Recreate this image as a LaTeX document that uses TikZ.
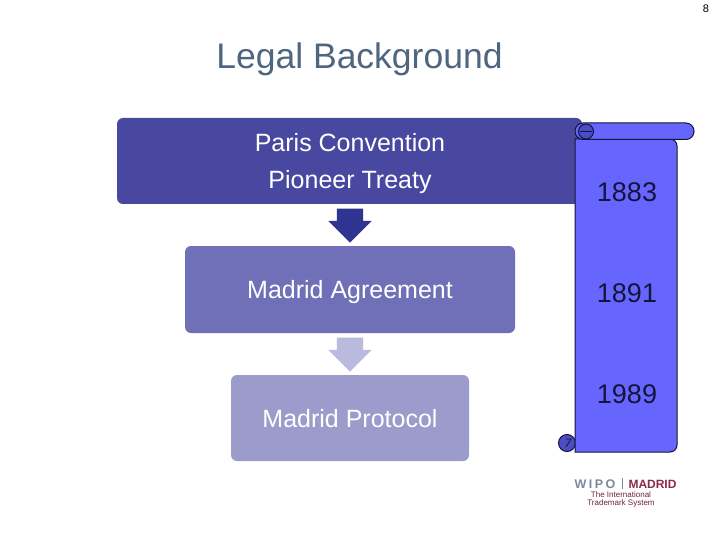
\documentclass[tikz,border=0pt]{standalone}
\usepackage{fontspec}
\setmainfont{Liberation Sans}
\usetikzlibrary{positioning,shapes.arrows}
\definecolor{titlecol}{HTML}{4F6580}
\definecolor{inkcol}{HTML}{14143C}
\definecolor{lineA}{HTML}{4848A0}
\definecolor{lineB}{HTML}{7070B8}
\definecolor{lineC}{HTML}{9C9CCC}
\definecolor{arrowA}{HTML}{2E3490}
\definecolor{arrowB}{HTML}{BABADE}
\definecolor{scrollcol}{HTML}{6666FF}
\definecolor{curlcol}{HTML}{4C4CC4}
\definecolor{wipocol}{HTML}{7A8A9C}
\definecolor{madcol}{HTML}{8E2A48}

\begin{document}
\begin{tikzpicture}[
  x=1pt,y=-1pt,
  stepbox/.style={rounded corners=6pt,inner sep=0pt},
  boxtext/.style={inner sep=0pt,anchor=base,text=white,font=\fontsize{25}{30}\selectfont},
  yearlabel/.style={inner sep=0pt,anchor=base,text=inkcol,font=\fontsize{27}{32}\selectfont},
  downarrow/.style={single arrow,rotate=270,inner xsep=0pt,inner ysep=13pt,
    minimum height=34pt,single arrow head extend=8.5pt,single arrow tip angle=90},
  scrollline/.style={draw=inkcol,line width=1pt}
]
  \useasboundingbox (0,0) rectangle (720,540);
  \fill[white] (0,0) rectangle (720,540);

  \node[inner sep=0pt,font=\fontsize{11}{13}\selectfont] (pagenum) at (706,9) {8};
  \node[inner sep=0pt,anchor=base,text=titlecol,font=\fontsize{35.5}{40}\selectfont] (title) at (359.5,69) {Legal Background};

  % boxes
  \node[stepbox,fill=lineA,minimum width=465pt,minimum height=86pt] (paris) at (349.5,161) {};
  \node[stepbox,fill=lineB,minimum width=330pt,minimum height=87pt] (agreement) at (350,289.5) {};
  \node[stepbox,fill=lineC,minimum width=238pt,minimum height=86pt] (protocol) at (350,418) {};
  \node[boxtext] (paristop) at (350,151.5) {Paris Convention};
  \node[boxtext] (parisbot) at (350,188.5) {Pioneer Treaty};
  \node[boxtext] (agreetext) at (350,298) {Madrid Agreement};
  \node[boxtext] (prototext) at (350,427) {Madrid Protocol};

  % arrows
  \node[downarrow,fill=arrowA] (arrowone) at (350,219) {};
  \node[downarrow,fill=arrowB] (arrowtwo) at (350,348) {};

  % scroll
  \draw[scrollline,fill=curlcol] (567,443) circle (8.5);
  \draw[scrollline,fill=scrollcol]
    (575,452) [rounded corners=7pt] -- (677,452) -- (677,139) [sharp corners] -- (575,139) -- cycle;
  \draw[scrollline,fill=scrollcol,rounded corners=8pt]
    (575,123) rectangle (694,139.5);
  \draw[scrollline,fill=curlcol] (586,131.5) circle (7.5);
  \draw[draw=inkcol,line width=.8pt] (580,131.5) -- (592,131.5);
  \draw[draw=inkcol,line width=.8pt] (566,439) -- (571,439) -- (566,447);

  \node[yearlabel] (yeartop) at (627,201.5) {1883};
  \node[yearlabel] (yearmid) at (627,302) {1891};
  \node[yearlabel] (yearbot) at (627,403) {1989};

  % logo
  \node[inner sep=0pt,anchor=base,text=wipocol,font=\bfseries\fontsize{12.5}{14}\selectfont\addfontfeature{LetterSpace=20}] (wipo) at (595,488) {WIPO};
  \node[inner sep=0pt,anchor=base,text=madcol,font=\bfseries\fontsize{12}{14}\selectfont] (madrid) at (652.5,488) {MADRID};
  \draw[wipocol,line width=.8pt] (622,478) -- (622,489);
  \node[inner sep=0pt,text=madcol!80!black,font=\fontsize{8}{8.5}\selectfont,align=center,anchor=north] (tagline) at (621,491) {The International\\Trademark System};
\end{tikzpicture}
\end{document}
